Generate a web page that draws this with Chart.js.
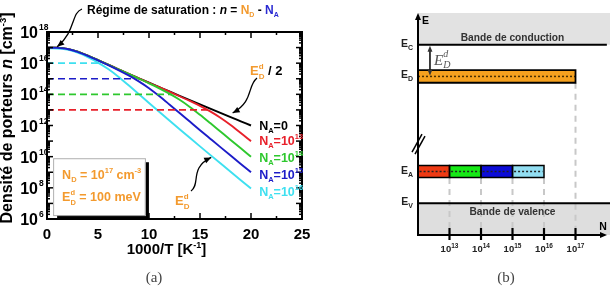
<!DOCTYPE html>
<html><head><meta charset="utf-8">
<script src="https://cdn.jsdelivr.net/npm/chart.js@4.4.1/dist/chart.umd.min.js"></script>
<style>
html,body{margin:0;padding:0;background:#fff;width:610px;height:286px;overflow:hidden}
#ca{position:absolute;left:0;top:0}
#cb{position:absolute;left:360px;top:0}
</style></head><body>
<canvas id="ca" width="360" height="286"></canvas>
<canvas id="cb" width="250" height="286"></canvas>
<script>
// ================= Panel (a) data =================
const invT = [0,0.5,1,1.5,2,3,4,5,6,7,8,9,10,11,12,13,14,15,16,17,18,19,20]; // 1000/T [K^-1]
// log10 of n [cm^-3]
const logN_NA0  = [17.000,16.997,16.988,16.963,16.914,16.733,16.478,16.194,15.902,15.609,15.317,15.030,14.744,14.463,14.182,13.904,13.628,13.354,13.081,12.809,12.538,12.269,12.000];
const logN_NA13 = [17.000,16.997,16.988,16.963,16.914,16.733,16.478,16.193,15.901,15.608,15.316,15.028,14.740,14.455,14.167,13.877,13.577,13.258,12.905,12.498,12.032,11.523,10.996];
const logN_NA14 = [17.000,16.997,16.987,16.962,16.913,16.732,16.477,16.192,15.899,15.603,15.307,15.009,14.705,14.387,14.041,13.648,13.193,12.686,12.155,11.615,11.075,10.536,9.999];
const logN_NA15 = [16.996,16.993,16.983,16.959,16.909,16.727,16.470,16.179,15.874,15.554,15.212,14.832,14.390,13.888,13.350,12.801,12.251,11.701,11.156,10.612,10.071,9.532,8.995];
const logN_NA16 = [16.954,16.952,16.942,16.917,16.867,16.675,16.390,16.039,15.622,15.128,14.580,14.013,13.444,12.879,12.317,11.762,11.210,10.661,10.115,9.571,9.030,8.491,7.954];
const naExpLabels = ['0','13','14','15','16'];
const seriesColors = ['#000000','#e8202a','#2ec82e','#1c1cc8','#3ee0f0'];
const dashLevelsExp = [13,14,15,16];      // dashed levels n = N_A
const dashEnds = [15.8,12.2,8.5,5.1];     // 1000/T where each dashed line stops
const dashColors = ['#e8202a','#2ec82e','#1c1cc8','#3ee0f0'];
const xTicks = [0,5,10,15,20,25];
const yTickExp = [6,8,10,12,14,16,18];

// ================= Panel (b) data =================
const nTickExp = [13,14,15,16,17];
const levelNames = ['V','A','D','C'];
const levelValues = [1,2,5,6];           // E_V, E_A, E_D, E_C (arbitrary energy units)
const donorRange = [12,17];
const acceptorEdges = [12,13,14,15,16];
const acceptorColors = ['#ee3a14','#16e816','#0c0cd8','#92def2'];
const donorColor = '#f5a11f';

const FF = '"Liberation Sans", Arial, sans-serif';
const ORANGE = '#f39a2e', BLUET = '#2a2ad2';

function drawParts(ctx, x, y, parts, align) {
  let w = 0;
  for (const p of parts) { ctx.font = fontOf(p); p._w = ctx.measureText(p.t).width; if (!p.ov) w += p._w; }
  let cx = align === 'center' ? x - w/2 : (align === 'right' ? x - w : x);
  for (const p of parts) {
    ctx.font = fontOf(p);
    ctx.fillStyle = p.c || '#000';
    ctx.textAlign = 'left'; ctx.textBaseline = 'alphabetic';
    ctx.fillText(p.t, cx, y + (p.dy || 0));
    if (!p.ov) cx += p._w;
  }
  return w;
}
function fontOf(p){ return (p.i ? 'italic ' : '') + (p.n ? '' : 'bold ') + p.s + 'px ' + (p.f || FF); }
function seg(ctx,a,b,c,d){ ctx.beginPath(); ctx.moveTo(a,b); ctx.lineTo(c,d); ctx.stroke(); }
function head(ctx, x, y, ang, L, W) {
  ctx.beginPath();
  ctx.moveTo(x, y);
  ctx.lineTo(x - L*Math.cos(ang) + W*Math.sin(ang), y - L*Math.sin(ang) - W*Math.cos(ang));
  ctx.lineTo(x - L*Math.cos(ang) - W*Math.sin(ang), y - L*Math.sin(ang) + W*Math.cos(ang));
  ctx.closePath(); ctx.fill();
}
function curvedArrow(ctx, x0,y0, c1x,c1y, c2x,c2y, x1,y1) {
  ctx.beginPath(); ctx.moveTo(x0,y0); ctx.bezierCurveTo(c1x,c1y,c2x,c2y,x1,y1); ctx.stroke();
  head(ctx, x1, y1, Math.atan2(y1-c2y, x1-c2x), 7, 3);
}

// ---------- chart (a) ----------
const allLog = [logN_NA0, logN_NA13, logN_NA14, logN_NA15, logN_NA16];
const curveOrder = [5,4,3,1,2];
const dsA = [];
allLog.forEach((arr, i) => {
  dsA.push({
    data: invT.map((x, k) => ({x, y: Math.pow(10, arr[k])})),
    borderColor: seriesColors[i], borderWidth: 1.9, pointRadius: 0,
    cubicInterpolationMode: 'monotone', fill: false, order: curveOrder[i]
  });
});
dashLevelsExp.forEach((e, i) => {
  dsA.push({
    data: [{x: 0, y: Math.pow(10, e)}, {x: dashEnds[i], y: Math.pow(10, e)}],
    borderColor: dashColors[i], borderWidth: 1.6, borderDash: [7, 4], pointRadius: 0, fill: false, order: 0
  });
});

const decorA = {
  id: 'decorA',
  afterDatasetsDraw(chart) {
    const {ctx} = chart; const sx = chart.scales.x, sy = chart.scales.y;
    const L = sx.getPixelForValue(0), R = sx.getPixelForValue(25);
    const T = sy.getPixelForValue(1e18), B = sy.getPixelForValue(1e6);
    ctx.save();
    ctx.strokeStyle = '#000'; ctx.fillStyle = '#000';
    ctx.lineWidth = 2; ctx.strokeRect(L, T, R - L, B - T);
    ctx.lineWidth = 1.5;
    for (let v = 0; v <= 25.01; v += 2.5) {
      const px = sx.getPixelForValue(v), len = (Math.abs(v % 5) < 0.01) ? 6 : 3;
      seg(ctx, px, B, px, B - len); seg(ctx, px, T, px, T + len);
    }
    for (let e = 6; e < 18; e++) for (let m = 1; m < 10; m++) {
      const py = sy.getPixelForValue(m * Math.pow(10, e)), len = m === 1 ? 6 : 3;
      seg(ctx, L, py, L + len, py); seg(ctx, R, py, R - len, py);
    }
    // x tick labels
    ctx.textAlign = 'center'; ctx.textBaseline = 'alphabetic';
    xTicks.forEach(v => { ctx.font = 'bold 15px ' + FF; ctx.fillStyle = '#000'; ctx.fillText(String(v), sx.getPixelForValue(v), 239); });
    // y tick labels
    yTickExp.forEach(e => {
      const py = sy.getPixelForValue(Math.pow(10, e));
      ctx.font = 'bold 16px ' + FF; ctx.textAlign = 'right'; ctx.fillStyle = '#000';
      ctx.fillText('10', L - 9, py + 6);
      ctx.font = 'bold 8.5px ' + FF; ctx.textAlign = 'left';
      ctx.fillText(String(e), L - 8, py - 2);
    });
    // axis titles
    drawParts(ctx, (L + R) / 2 - 8, 254, [
      {t: '1000/T [K', s: 15}, {t: '-1', s: 9, dy: -6}, {t: ']', s: 15}], 'center');
    ctx.save(); ctx.translate(12, 118); ctx.rotate(-Math.PI / 2);
    drawParts(ctx, 0, 0, [
      {t: 'Densité de porteurs ', s: 16}, {t: 'n', s: 16, i: 1}, {t: ' [cm', s: 16}, {t: '-3', s: 9.5, dy: -6}, {t: ']', s: 16}], 'center');
    ctx.restore();

    // series labels at line ends
    const lx = sx.getPixelForValue(20.8);
    allLog.forEach((arr, i) => {
      const py = sy.getPixelForValue(Math.pow(10, arr[arr.length - 1])) + (i === 0 ? 4 : 3 + i * 1.2);
      const c = seriesColors[i];
      const parts = [{t: 'N', s: 12.5, c}, {t: 'A', s: 7.5, c, dy: 3}, {t: i === 0 ? '=0' : '=10', s: 12.5, c}];
      if (i > 0) parts.push({t: naExpLabels[i], s: 7.5, c, dy: -6});
      drawParts(ctx, lx, py, parts, 'left');
    });

    // saturation annotation
    drawParts(ctx, 87, 14, [
      {t: 'Régime de saturation : ', s: 12}, {t: 'n', s: 12, i: 1}, {t: ' = ', s: 12},
      {t: 'N', s: 12, c: ORANGE}, {t: 'D', s: 7, c: ORANGE, dy: 3}, {t: ' - ', s: 12},
      {t: 'N', s: 12, c: BLUET}, {t: 'A', s: 7, c: BLUET, dy: 3}], 'left');
    ctx.lineWidth = 1.3; ctx.strokeStyle = '#000'; ctx.fillStyle = '#000';
    const t1x = sx.getPixelForValue(1.0), t1y = sy.getPixelForValue(Math.pow(10, 17.05));
    curvedArrow(ctx, 82, 9, 71, 13, 76, 31, t1x, t1y);

    // Ed/2 annotation
    drawParts(ctx, 250, 75, [
      {t: 'E', s: 13, c: ORANGE}, {t: 'd', s: 8, c: ORANGE, dy: -6, ov: 1}, {t: 'D', s: 8, c: ORANGE, dy: 4},
      {t: ' / 2', s: 13}], 'left');
    const t2x = sx.getPixelForValue(18.2), t2y = sy.getPixelForValue(Math.pow(10, 12.8));
    ctx.fillStyle = '#000';
    curvedArrow(ctx, 257, 78, 247, 86, 254, 101, t2x, t2y);

    // Ed annotation
    drawParts(ctx, 175, 205, [
      {t: 'E', s: 13, c: ORANGE}, {t: 'd', s: 8, c: ORANGE, dy: -6, ov: 1}, {t: 'D', s: 8, c: ORANGE, dy: 4}], 'left');
    const t3x = sx.getPixelForValue(16.1), t3y = sy.getPixelForValue(Math.pow(10, 9.95));
    ctx.fillStyle = '#000';
    curvedArrow(ctx, 191, 191, 201, 184, 189, 168, t3x, t3y);

    // info box
    const bx = sx.getPixelForValue(0.6), by = sy.getPixelForValue(Math.pow(10, 9.9));
    const bw = sx.getPixelForValue(9.6) - bx, bh = sy.getPixelForValue(Math.pow(10, 6.25)) - by;
    ctx.fillStyle = '#000'; ctx.fillRect(bx + 4, by + 4, bw, bh);
    ctx.fillStyle = '#fff'; ctx.fillRect(bx, by, bw, bh);
    ctx.strokeStyle = '#b0b0b0'; ctx.lineWidth = 1; ctx.strokeRect(bx + 0.5, by + 0.5, bw, bh);
    drawParts(ctx, bx + 9, by + 21, [
      {t: 'N', s: 12.5, c: ORANGE}, {t: 'D', s: 7.5, c: ORANGE, dy: 3}, {t: ' = 10', s: 12.5, c: ORANGE},
      {t: '17', s: 7.5, c: ORANGE, dy: -6}, {t: ' cm', s: 12.5, c: ORANGE}, {t: '-3', s: 7.5, c: ORANGE, dy: -6}], 'left');
    drawParts(ctx, bx + 9, by + 43, [
      {t: 'E', s: 12.5, c: ORANGE}, {t: 'd', s: 7.5, c: ORANGE, dy: -6, ov: 1}, {t: 'D', s: 7.5, c: ORANGE, dy: 4},
      {t: ' = 100 meV', s: 12.5, c: ORANGE}], 'left');

    // caption
    ctx.font = '15px "Liberation Serif", "DejaVu Serif", serif'; ctx.fillStyle = '#444'; ctx.textAlign = 'center';
    ctx.fillText('(a)', 154, 282);
    ctx.restore();
  }
};

new Chart(document.getElementById('ca'), {
  type: 'line',
  data: {datasets: dsA},
  options: {
    responsive: false, animation: false, events: [],
    layout: {padding: {left: 47, right: 58, top: 32, bottom: 67}},
    plugins: {legend: {display: false}, tooltip: {enabled: false}},
    scales: {
      x: {type: 'linear', min: 0, max: 25, display: false},
      y: {type: 'logarithmic', min: 1e6, max: 1e18, display: false}
    }
  },
  plugins: [decorA]
});

// ---------- chart (b) ----------
const EV = levelValues[0], EA = levelValues[1], ED = levelValues[2], EC = levelValues[3];
const XMAX = 18.095, YMAX = 7, HB = 0.2;
const hseg = (x0, x1, y) => [{x: x0, y}, {x: x1, y}];
const rectPath = (x0, x1, y0, y1) => [{x: x0, y: y0}, {x: x1, y: y0}, {x: x1, y: y1}, {x: x0, y: y1}, {x: x0, y: y0}];
const dsB = [];
const base = {pointRadius: 0, tension: 0, showLine: true};
// bands
dsB.push({...base, data: hseg(12, XMAX, YMAX), fill: {value: EC}, backgroundColor: '#e2e2e2', borderWidth: 0, order: 20});
dsB.push({...base, data: hseg(12, XMAX, EV), fill: {value: 0}, backgroundColor: '#dedede', borderWidth: 0, order: 20});
// dashed guides
nTickExp.forEach(e => {
  const top = e <= acceptorEdges[acceptorEdges.length - 1] ? EA - HB : ED - HB;
  dsB.push({...base, data: [{x: e, y: top}, {x: e, y: 0.22}], borderColor: '#c8c8c8', borderWidth: 2, borderDash: [6, 5], fill: false, order: 15});
});
// band edges
dsB.push({...base, data: hseg(12, XMAX - 0.1, EC), borderColor: '#000', borderWidth: 2, fill: false, order: 12});
dsB.push({...base, data: hseg(12, XMAX, EV), borderColor: '#000', borderWidth: 2, fill: false, order: 12});
// donor level
dsB.push({...base, data: hseg(donorRange[0], donorRange[1], ED + HB), fill: {value: ED - HB}, backgroundColor: donorColor, borderWidth: 0, order: 8});
dsB.push({...base, data: hseg(donorRange[0], donorRange[1], ED), borderColor: '#4a3000', borderWidth: 1.5, borderDash: [2, 2], fill: false, order: 6});
dsB.push({...base, data: rectPath(donorRange[0], donorRange[1], ED - HB, ED + HB), borderColor: '#000', borderWidth: 1.8, fill: false, order: 5});
// acceptor levels
for (let i = 0; i < acceptorEdges.length - 1; i++) {
  const a = acceptorEdges[i], b = acceptorEdges[i + 1];
  dsB.push({...base, data: hseg(a, b, EA + 0.19), fill: {value: EA - 0.19}, backgroundColor: acceptorColors[i], borderWidth: 0, order: 8});
  dsB.push({...base, data: hseg(a + 0.05, b - 0.05, EA), borderColor: '#222', borderWidth: 1.5, borderDash: [2, 2], fill: false, order: 6});
  dsB.push({...base, data: rectPath(a, b, EA - 0.19, EA + 0.19), borderColor: '#000', borderWidth: 1.5, fill: false, order: 5});
}

const decorB = {
  id: 'decorB',
  afterDatasetsDraw(chart) {
    const {ctx} = chart; const sx = chart.scales.x, sy = chart.scales.y;
    const x0 = sx.getPixelForValue(12), y0 = sy.getPixelForValue(0), yT = sy.getPixelForValue(YMAX);
    const xE = sx.getPixelForValue(18.0);
    ctx.save();
    ctx.strokeStyle = '#000'; ctx.fillStyle = '#000'; ctx.lineWidth = 2;
    seg(ctx, x0, y0 + 1, x0, yT + 4); head(ctx, x0, yT, -Math.PI / 2, 7, 3);
    seg(ctx, x0 - 1, y0, xE - 4, y0); head(ctx, xE, y0, 0, 7, 3);
    // break mark
    const yb = sy.getPixelForValue(2.9);
    ctx.lineWidth = 1.5;
    seg(ctx, x0 - 6, yb + 9, x0 + 4, yb - 9); seg(ctx, x0 - 3, yb + 11, x0 + 7, yb - 7);
    // N ticks + labels
    ctx.lineWidth = 2.2;
    nTickExp.forEach(e => {
      const px = sx.getPixelForValue(e);
      seg(ctx, px, y0 - 7, px, y0 + 5);
      drawParts(ctx, px, y0 + 17, [{t: '10', s: 9.5, c: '#222'}, {t: String(e), s: 6.5, c: '#222', dy: -4}], 'center');
    });
    // axis labels
    drawParts(ctx, x0 + 4, yT + 11, [{t: 'E', s: 10.5}], 'left');
    drawParts(ctx, sx.getPixelForValue(17.75), y0 - 5, [{t: 'N', s: 10.5}], 'left');
    // level labels
    levelValues.forEach((v, i) => {
      drawParts(ctx, x0 - 5, sy.getPixelForValue(v) + 2, [{t: 'E', s: 10.5, c: '#222'}, {t: levelNames[i], s: 7, c: '#222', dy: 3}], 'right');
    });
    // band names
    const xm = sx.getPixelForValue(15.0);
    drawParts(ctx, xm, sy.getPixelForValue(EC) - 4, [{t: 'Bande de conduction', s: 10.2, c: '#333'}], 'center');
    drawParts(ctx, xm, sy.getPixelForValue(EV) + 12, [{t: 'Bande de valence', s: 10.2, c: '#333'}], 'center');
    // Ed double arrow
    const xa = sx.getPixelForValue(12.38), ya0 = sy.getPixelForValue(EC), ya1 = sy.getPixelForValue(ED);
    ctx.lineWidth = 1.5;
    seg(ctx, xa, ya0 + 5, xa, ya1 - 5);
    head(ctx, xa, ya0 + 1, -Math.PI / 2, 6, 2.5); head(ctx, xa, ya1 - 1, Math.PI / 2, 6, 2.5);
    const SF = '"Liberation Serif", "DejaVu Serif", serif';
    drawParts(ctx, xa + 4, ya0 + 20, [
      {t: 'E', s: 15, i: 1, n: 1, f: SF, c: '#555'}, {t: 'd', s: 10, i: 1, n: 1, f: SF, c: '#555', dy: -8, ov: 1},
      {t: 'D', s: 10, i: 1, n: 1, f: SF, c: '#555', dy: 3}], 'left');
    // caption
    ctx.font = '15px "Liberation Serif", "DejaVu Serif", serif'; ctx.fillStyle = '#444'; ctx.textAlign = 'center';
    ctx.fillText('(b)', 146, 282);
    ctx.restore();
  }
};

new Chart(document.getElementById('cb'), {
  type: 'line',
  data: {datasets: dsB},
  options: {
    responsive: false, animation: false, events: [],
    layout: {padding: {left: 58, right: 0, top: 13, bottom: 51}},
    plugins: {legend: {display: false}, tooltip: {enabled: false}},
    scales: {
      x: {type: 'linear', min: 12, max: XMAX, display: false},
      y: {type: 'linear', min: 0, max: YMAX, display: false}
    }
  },
  plugins: [decorB]
});
</script>
</body></html>
